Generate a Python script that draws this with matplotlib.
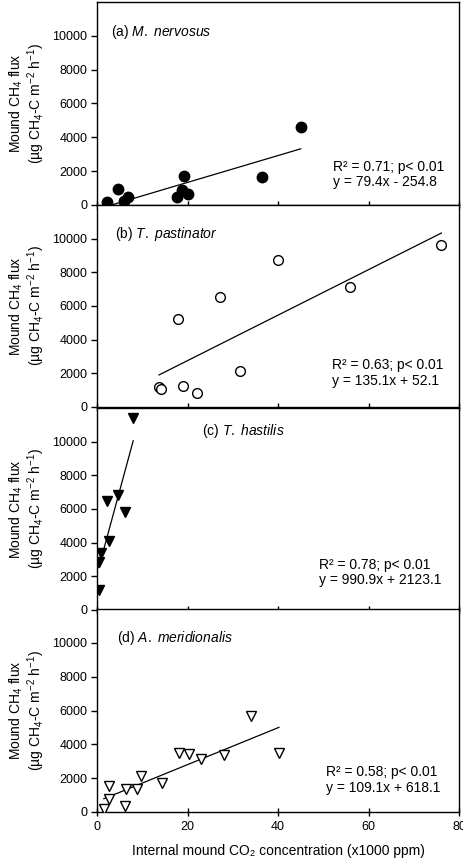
import numpy as np
import matplotlib
matplotlib.use("Agg")
import matplotlib.pyplot as plt

plt.rcParams['font.family'] = ['Liberation Sans', 'DejaVu Sans']
plt.rcParams['mathtext.fontset'] = 'custom'
plt.rcParams['mathtext.rm'] = 'Liberation Sans'
plt.rcParams['mathtext.it'] = 'Liberation Sans:italic'
plt.rcParams['mathtext.default'] = 'regular'

# internal mound CO2 (x1000 ppm) vs mound CH4 flux
a_co2 = [2.1, 4.6, 5.9, 6.9, 17.7, 18.8, 19.2, 20.1, 36.5, 45.0]
a_ch4 = [160, 950, 240, 490, 490, 890, 1740, 650, 1680, 4580]

b_co2 = [13.7, 14.2, 17.9, 18.9, 22.0, 27.1, 31.7, 39.9, 56.0, 76.1]
b_ch4 = [1200, 1090, 5200, 1240, 830, 6560, 2130, 8710, 7110, 9640]

c_co2 = [0.4, 0.4, 0.8, 2.6, 2.2, 4.7, 6.1, 8.0]
c_ch4 = [1160, 2840, 3390, 4120, 6470, 6800, 5840, 11380]

d_co2 = [1.5, 2.6, 2.7, 6.1, 6.5, 8.9, 9.7, 14.4, 18.2, 20.4, 23.0, 28.1, 34.0, 40.2]
d_ch4 = [200, 770, 1520, 330, 1360, 1360, 2110, 1710, 3480, 3410, 3150, 3390, 5650, 3480]

labels = ["(a) ", "(b) ", "(c) ", "(d) "]
species = [("M.", "nervosus"), ("T.", "pastinator"), ("T.", "hastilis"), ("A.", "meridionalis")]
slopes = [79.4, 135.1, 990.9, 109.1]
intercepts = [-254.8, 52.1, 2123.1, 618.1]
r2 = ["0.71", "0.63", "0.78", "0.58"]

xs = [a_co2, b_co2, c_co2, d_co2]
ys = [a_ch4, b_ch4, c_ch4, d_ch4]
faces = ["black", "white", "black", "white"]
marks = ["o", "o", "v", "v"]
msizes = [7.5, 7, 7, 7.5]
label_pos = [(3.1, 10200), (4.0, 10280), (23.2, 10630), (4.4, 10290)]
stat_pos = [(52.2, 1800), (52.0, 2020), (49.0, 2250), (50.6, 1890)]

fig = plt.figure(figsize=(4.63, 8.63), dpi=100)
panels = [(0.7625, 0.2352), (0.5284, 0.2341), (0.2932, 0.2341), (0.0591, 0.2352)]

for i in range(4):
    bottom, height = panels[i]
    ax = fig.add_axes([0.2095, bottom, 0.782, height])
    ax.plot(xs[i], ys[i], linestyle="none", marker=marks[i], ms=msizes[i],
            mfc=faces[i], mec="black", mew=1.0, zorder=3)
    xl = np.array([min(xs[i]), max(xs[i])])
    ax.plot(xl, slopes[i] * xl + intercepts[i], color="black", lw=0.9, zorder=2)
    ax.set_xlim(0, 80)
    ax.set_ylim(0, 12000)
    ax.set_xticks([0, 20, 40, 60, 80])
    ax.set_yticks([0, 2000, 4000, 6000, 8000, 10000])
    ax.tick_params(axis="x", direction="inout", length=6, width=1, labelsize=9)
    ax.tick_params(axis="y", direction="out", length=4, width=1, labelsize=9, pad=3)
    if i < 3:
        ax.tick_params(axis="x", labelbottom=False)
    for s in ax.spines.values():
        s.set_linewidth(1.0)
    ax.set_ylabel("Mound CH$_4$ flux\n(µg CH$_4$-C m$^{-2}$ h$^{-1}$)", fontsize=10,
                  linespacing=1.05)
    ax.yaxis.set_label_coords(-0.137, 0.5)
    lx, ly = label_pos[i]
    genus, sp = species[i]
    ax.text(lx, ly, labels[i] + "$\\it{" + genus + "}$ $\\it{" + sp + "}$",
            fontsize=10, va="center")
    sx, sy = stat_pos[i]
    ax.text(sx, sy, "R² = " + r2[i] + "; p< 0.01\ny = " + str(slopes[i]) + "x "
            + ("- " if intercepts[i] < 0 else "+ ") + str(abs(intercepts[i])),
            fontsize=10, va="center", linespacing=1.1)
    if i == 3:
        ax.set_xlabel("Internal mound CO₂ concentration (x1000 ppm)", fontsize=10, labelpad=8)

fig.savefig("out.png", dpi=100)
